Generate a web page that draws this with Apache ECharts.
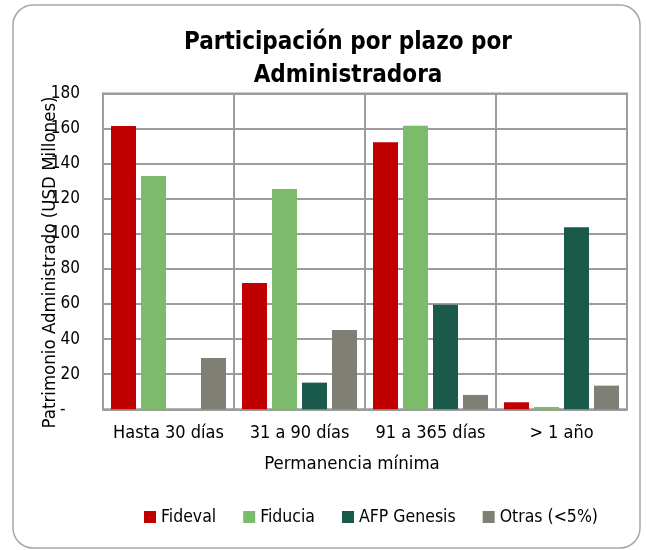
<!DOCTYPE html>
<html><head><meta charset="utf-8">
<script src="https://cdn.jsdelivr.net/npm/echarts@6/dist/echarts.min.js"></script>
<style>html,body{margin:0;padding:0;background:#fff}#c{width:646px;height:550px}</style>
</head><body><div id="c"></div>
<script>
var categories = ['Hasta 30 días', '31 a 90 días', '91 a 365 días', '> 1 año'];
var fideval = [161.5, 72.0, 152.2, 4.0];
var fiducia = [133.0, 125.6, 161.7, 1.3];
var afpGenesis = [0, 15.2, 59.6, 103.8];
var otras = [29.3, 45.2, 8.2, 13.5];
var seriesNames = ['Fideval', 'Fiducia', 'AFP Genesis', 'Otras (<5%)'];
var yTicks = { min: 0, max: 180, interval: 20 };

var FONT = '"DejaVu Sans Condensed", "DejaVu Sans", sans-serif';
var colors = ['#C00000', '#7DBB6C', '#1A5A4A', '#7F7F75'];
var data = [fideval, fiducia, afpGenesis, otras];
var GRID = '#9c9c9c';

var chart = echarts.init(document.getElementById('c'), null, { renderer: 'canvas' });
var option = {
  animation: false,
  textStyle: { fontFamily: FONT },
  title: {
    text: 'Participación por plazo por\nAdministradora',
    left: 343, top: 21, textAlign: 'center',
    textStyle: { fontFamily: FONT, fontWeight: 'bold', fontSize: 24, color: '#000', lineHeight: 33 }
  },
  graphic: [
    { type: 'rect', shape: { x: 13, y: 5, width: 627, height: 543, r: 20 },
      style: { fill: 'none', stroke: '#a6a6a6', lineWidth: 1.5 }, z: -10 }
  ],
  legend: {
    data: seriesNames,
    left: 139, top: 503,
    icon: 'rect', itemWidth: 12, itemHeight: 12, itemGap: 27,
    textStyle: { fontFamily: FONT, fontSize: 17.5, color: '#000' }
  },
  grid: { left: 103, right: 19, top: 93.6, bottom: 140.7, show: true, borderColor: GRID, borderWidth: 2 },
  xAxis: {
    type: 'category', data: categories,
    axisLine: { lineStyle: { color: GRID, width: 2 } },
    axisTick: { show: false },
    axisLabel: { show: true, interval: 0, margin: 15, fontFamily: FONT, fontSize: 18, color: '#000' },
    splitLine: { show: true, lineStyle: { color: GRID, width: 2 } },
    name: 'Permanencia mínima', nameLocation: 'middle', nameGap: 45.5, nameMoveOverlap: false,
    nameTextStyle: { fontFamily: FONT, fontSize: 18.5, color: '#000', padding: [0, 26, 0, 0] }
  },
  yAxis: {
    type: 'value', min: yTicks.min, max: yTicks.max, interval: yTicks.interval,
    axisLine: { show: true, lineStyle: { color: GRID, width: 2 } },
    axisTick: { show: false },
    splitLine: { show: true, lineStyle: { color: GRID, width: 2 } },
    axisLabel: { margin: 23, fontFamily: FONT, fontSize: 17, color: '#000',
      formatter: function (v) { return v === 0 ? '-   ' : String(v); } },
    name: 'Patrimonio Administrado (USD Millones)', nameLocation: 'middle', nameGap: 43, nameMoveOverlap: false,
    nameTextStyle: { fontFamily: FONT, fontSize: 18.5, color: '#000', padding: [0, 22, 0, 0] }
  },
  series: seriesNames.map(function (n, i) {
    return {
      name: n, type: 'bar', data: data[i],
      barWidth: 25, barGap: '20%',
      itemStyle: { color: colors[i] }
    };
  })
};
chart.setOption(option);
</script></body></html>
